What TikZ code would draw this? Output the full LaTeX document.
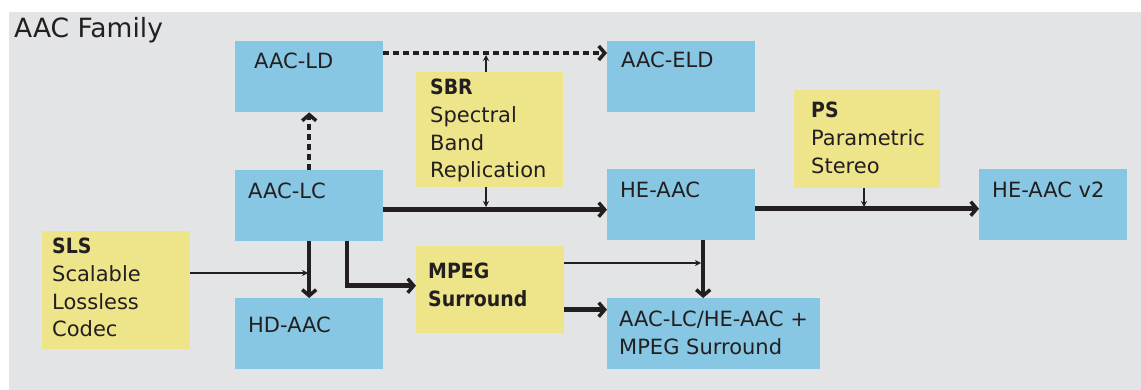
\documentclass[tikz,border=0pt]{standalone}
\usepackage{fontspec}
\setmainfont{DejaVu Sans}[BoldFeatures={FakeStretch=0.9}]
\usetikzlibrary{arrows.meta}
\definecolor{famgray}{HTML}{E3E4E6}
\definecolor{codecblue}{HTML}{88C7E3}
\definecolor{toolyellow}{HTML}{EEE48A}
\definecolor{ink}{HTML}{231F20}
\begin{document}
\begin{tikzpicture}[x=1pt,y=-1pt]
      \tikzset{codec/.style={fill=codecblue, minimum width=148pt, minimum height=71pt, anchor=north west, inner sep=0pt},
               tool/.style={fill=toolyellow, anchor=north west, inner sep=0pt},
               lbl/.style={anchor=north west, inner sep=0pt, align=left, text=ink, font=\fontsize{21}{27.7}\selectfont},
               main/.style={draw=ink, line width=4.5pt, -{Straight Barb[length=6pt,width=14pt,line width=3.5pt]}},
               optional/.style={main, dash pattern=on 6pt off 4pt},
               side/.style={draw=ink, line width=1.8pt, -{Stealth[length=6pt,width=6pt]}}}
      \useasboundingbox (0,0) rectangle (1141,390);
      \fill[famgray] (9,12) rectangle (1141,390);
      \node[anchor=base west, inner sep=0pt, text=ink, font=\fontsize{26.5}{30}\selectfont] (title) at (14,38) {AAC Family};
%% Codecs
      	\node[codec, label={[lbl, xshift=19pt, yshift=-12pt]north west:AAC-LD}] (ld) at (235,41) {};
      	\node[codec, label={[lbl, xshift=14pt, yshift=-11pt]north west:AAC-ELD}] (eld) at (607,41) {};
      	\node[codec, label={[lbl, xshift=13pt, yshift=-13pt]north west:AAC-LC}] (lc) at (235,170) {};
      	\node[codec, label={[lbl, xshift=13pt, yshift=-13pt]north west:HE-AAC}] (he) at (607,169) {};
      	\node[codec, label={[lbl, xshift=13pt, yshift=-13pt]north west:HE-AAC v2}] (hev2) at (979,169) {};
      	\node[codec, label={[lbl, xshift=13pt, yshift=-19pt]north west:HD-AAC}] (hd) at (235,298) {};
      	\node[codec, minimum width=213pt, label={[lbl, xshift=12pt, yshift=-13pt]north west:{AAC-LC/HE-AAC +\\MPEG Surround}}] (lcps) at (607,298) {};
%% Tools
      	\node[tool, minimum width=147pt, minimum height=115pt, label={[lbl, xshift=14pt, yshift=-7pt]north west:{\bfseries SBR\\Spectral\\Band\\Replication}}] (sbr) at (416,72) {};
      	\node[tool, minimum width=146pt, minimum height=98pt, label={[lbl, xshift=17pt, yshift=-12pt]north west:{\bfseries PS\\Parametric\\Stereo}}] (ps) at (794,90) {};
      	\node[tool, minimum width=148pt, minimum height=118pt, label={[lbl, xshift=10pt, yshift=-7pt]north west:{\bfseries SLS\\Scalable\\Lossless\\Codec}}] (sls) at (42,231) {};
      	\node[tool, minimum width=148pt, minimum height=87pt, label={[lbl, xshift=12pt, yshift=-17pt]north west:{\bfseries MPEG\\\bfseries Surround}}] (mps) at (416,246) {};
%Links
		\draw[optional] ([yshift=-12pt]ld.north east) -- ([yshift=-12pt]eld.north west);
		\draw[optional] (lc.north) -- (ld.south);
		\draw[main] ([yshift=-4pt]lc.east) -- ([yshift=-4pt]lc.east -| he.west);
		\draw[main] ([yshift=-4pt]he.east) -- ([yshift=-4pt]hev2.west);
		\draw[main] (lc.south) -- (hd.north);
		\draw[main] ([xshift=38pt]lc.south) |- ([yshift=4pt]mps.west);
		\draw[main] ([xshift=22pt]he.south) -- ([xshift=22pt]he.south |- lcps.north);
		\draw[main] ([yshift=-20pt]mps.east) -- ([yshift=-20pt]mps.east -| lcps.west);
%Side inputs
		\coordinate (sbrup) at (486,55);
		\coordinate (sbrdn) at (486,207);
		\coordinate (psdn) at (864,207);
		\coordinate (slsin) at (308,273);
		\coordinate (mpsin) at (701,263);
		\draw[side] (sbr.north -| sbrup) -- (sbrup);
		\draw[side] (sbr.south -| sbrdn) -- (sbrdn);
		\draw[side] (ps.south -| psdn) -- (psdn);
		\draw[side] (sls.east |- slsin) -- (slsin);
		\draw[side] (mps.east |- mpsin) -- (mpsin);
	\end{tikzpicture}
\end{document}
